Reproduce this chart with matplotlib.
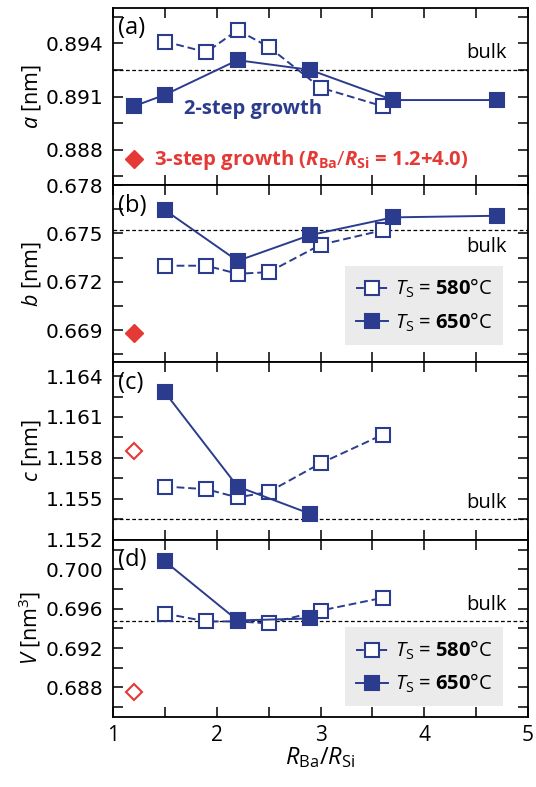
import matplotlib
matplotlib.use('Agg')
import matplotlib.pyplot as plt
from matplotlib.ticker import FixedLocator, MultipleLocator, FormatStrFormatter
from matplotlib.lines import Line2D

plt.rcParams['font.family'] = ['Open Sans', 'DejaVu Sans']
plt.rcParams['mathtext.fontset'] = 'custom'
plt.rcParams['mathtext.rm'] = 'Open Sans'
plt.rcParams['mathtext.it'] = 'Open Sans:italic'
plt.rcParams['mathtext.bf'] = 'Open Sans:bold'
plt.rcParams['mathtext.bfit'] = 'Open Sans:italic:bold'

# data
x580 = [1.5, 1.9, 2.2, 2.5, 3.0, 3.6]
a580 = [0.8941, 0.8935, 0.89475, 0.8938, 0.8915, 0.89045]
b580 = [0.6730, 0.6730, 0.6725, 0.6726, 0.6743, 0.6752]
c580 = [1.1559, 1.1557, 1.1551, 1.1555, 1.1576, 1.1597]
V580 = [0.6955, 0.6947, 0.6947, 0.6945, 0.6958, 0.6971]

x650_a = [1.2, 1.5, 2.2, 2.9, 3.7, 4.7]
a650 = [0.89045, 0.8911, 0.89305, 0.8925, 0.8908, 0.8908]
x650_b = [1.5, 2.2, 2.9, 3.7, 4.7]
b650 = [0.67645, 0.6733, 0.6749, 0.6760, 0.6761]
x650_cd = [1.5, 2.2, 2.9]
c650 = [1.1628, 1.1559, 1.1539]
V650 = [0.7008, 0.6948, 0.6950]

x3step = 1.2
step3 = [0.8875, 0.6688, 1.1585, 0.6875]
step3_filled = [True, True, False, False]

bulk = [0.8925, 0.6752, 1.1535, 0.6947]
bulk_above = [True, False, True, True]

panels = ['(a)', '(b)', '(c)', '(d)']
ylabels = [r'$\mathit{a}$ [nm]', r'$\mathit{b}$ [nm]', r'$\mathit{c}$ [nm]', r'$\mathit{V}$ [nm$^3$]']
ylims = [(0.886, 0.896), (0.667, 0.678), (1.152, 1.165), (0.685, 0.703)]
yticks = [[0.888, 0.891, 0.894], [0.669, 0.672, 0.675, 0.678],
          [1.152, 1.155, 1.158, 1.161, 1.164], [0.688, 0.692, 0.696, 0.700]]
yminor = [0.0015, 0.0015, 0.0015, 0.002]

blue = '#2b3c8e'
red = '#e53935'

fig, axes = plt.subplots(4, 1, figsize=(5.36, 7.87), dpi=100, sharex=True,
                         gridspec_kw=dict(hspace=0))
fig.subplots_adjust(left=0.211, right=0.985, top=0.990, bottom=0.089)

series = [(x580, a580, x650_a, a650), (x580, b580, x650_b, b650),
          (x580, c580, x650_cd, c650), (x580, V580, x650_cd, V650)]

for i, ax in enumerate(axes):
    xo, yo, xf, yf = series[i]
    ax.axhline(bulk[i], color='black', lw=0.9, ls=(0, (3, 2)), zorder=1)
    ax.plot(xo, yo, ls=(0, (4, 2)), color=blue, lw=1.4, marker='s', ms=10,
            mfc='white', mec=blue, mew=1.5, zorder=3)
    ax.plot(xf, yf, ls='-', color=blue, lw=1.4, marker='s', ms=10,
            mfc=blue, mec=blue, mew=1.5, zorder=4)
    if step3_filled[i]:
        ax.plot([x3step], [step3[i]], 'D', ms=9, color=red, mec=red)
    else:
        ax.plot([x3step], [step3[i]], 'D', ms=8.5, mfc='white', mec=red, mew=1.5)

    off = 12 if bulk_above[i] else -12
    ax.annotate('bulk', xy=(0.949, bulk[i]), xycoords=('axes fraction', 'data'),
                xytext=(0, off), textcoords='offset points', ha='right', va='center',
                fontsize=14.5)
    ax.text(0.012, 0.885, panels[i], transform=ax.transAxes, fontsize=17,
            ha='left', va='center')

    ax.set_ylim(*ylims[i])
    ax.yaxis.set_major_locator(FixedLocator(yticks[i]))
    ax.yaxis.set_minor_locator(MultipleLocator(yminor[i]))
    ax.yaxis.set_major_formatter(FormatStrFormatter('%.3f'))
    ax.set_ylabel(ylabels[i], fontsize=15.5)
    ax.yaxis.set_label_coords(-0.168, 0.5)

    ax.tick_params(which='both', direction='in', top=True, right=True,
                   length=7, width=1.1)
    ax.tick_params(axis='y', labelsize=14.5, pad=7)
    for lab in ax.get_yticklabels():
        lab.set_fontfamily('DejaVu Sans')
    for s in ax.spines.values():
        s.set_linewidth(1.3)

axes[-1].set_xlim(1, 5)
axes[-1].xaxis.set_major_locator(FixedLocator([1, 2, 3, 4, 5]))
axes[-1].xaxis.set_minor_locator(MultipleLocator(0.5))
axes[-1].tick_params(axis='x', labelsize=15, pad=6)
axes[-1].set_xlabel(r'$\mathit{R}_{\mathrm{Ba}}/\mathit{R}_{\mathrm{Si}}$', fontsize=17, labelpad=-1)

axes[0].text(2.35, 0.8903, '2-step growth', color=blue, fontsize=14.5,
             fontweight='bold', ha='center', va='center')
axes[0].text(1.39, 0.88743,
             r'3-step growth ($\mathbfit{R}_{\mathbf{Ba}}/\mathbfit{R}_{\mathbf{Si}}$ = 1.2+4.0)',
             color=red, fontsize=14.6, fontweight='bold', ha='left', va='center')

handles = [Line2D([], [], ls=(0, (4, 2)), color=blue, lw=1.4, marker='s', ms=10,
                  mfc='white', mec=blue, mew=1.5),
           Line2D([], [], ls='-', color=blue, lw=1.4, marker='s', ms=10,
                  mfc=blue, mec=blue, mew=1.5)]
labels = [r'$\mathit{T}_{\mathrm{S}}$ = $\mathbf{580}$°C',
          r'$\mathit{T}_{\mathrm{S}}$ = $\mathbf{650}$°C']
for ax, yb in [(axes[1], 0.10), (axes[3], 0.06)]:
    leg = ax.legend(handles, labels, loc='lower right', bbox_to_anchor=(0.94, yb),
                    borderaxespad=0, fontsize=14.5, handlelength=1.6, handletextpad=0.3,
                    frameon=True, fancybox=False, facecolor='#ebebeb', edgecolor='none',
                    framealpha=1, borderpad=0.55, labelspacing=0.5)

fig.savefig('out.png', dpi=100)
